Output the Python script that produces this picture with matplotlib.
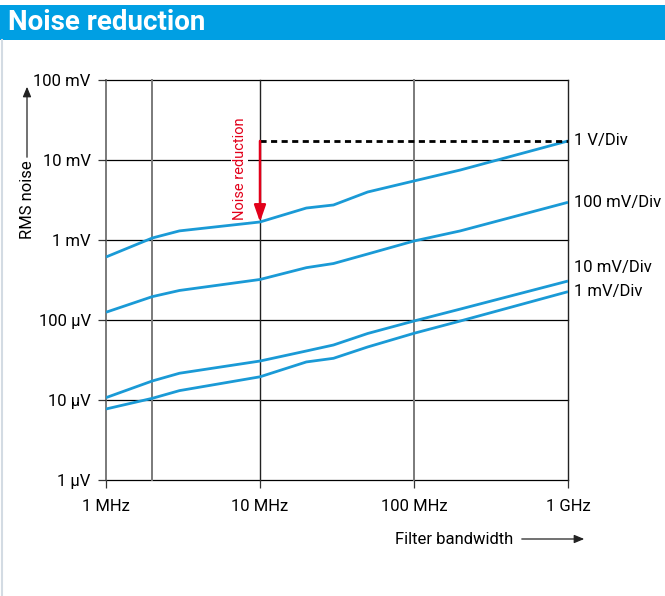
import matplotlib
matplotlib.use("Agg")
import numpy as np
import matplotlib.pyplot as plt
from matplotlib.patches import Rectangle, FancyArrowPatch
from matplotlib.lines import Line2D

plt.rcParams['font.family'] = ['Roboto', 'DejaVu Sans']

# filter bandwidth in MHz, RMS noise in µV
freq_mhz = [1, 2, 3, 10, 20, 30, 50, 100, 200, 1000]
noise_1v = [613, 1060, 1300, 1680, 2510, 2740, 3980, 5470, 7500, 17300]
noise_100mv = [125, 196, 234, 321, 451, 508, 668, 972, 1300, 2960]
noise_10mv = [10.7, 17.3, 21.6, 30.7, 41.0, 48.7, 67.8, 97.2, 137, 307]
noise_1mv = [7.72, 10.5, 13.1, 19.5, 29.9, 33.2, 46.0, 68.2, 97.2, 226]
series_labels = ["1 V/Div", "100 mV/Div", "10 mV/Div", "1 mV/Div"]
label_offsets = [0, 0, 9.5, 0]

x_ticks = [1e6, 1e7, 1e8, 1e9]
x_ticklabels = ["1 MHz", "10 MHz", "100 MHz", "1 GHz"]
y_ticks = [1e-6, 1e-5, 1e-4, 1e-3, 1e-2, 1e-1]
y_ticklabels = ["1 µV", "10 µV", "100 µV", "1 mV", "10 mV", "100 mV"]

W, H = 665, 596
BLUE = "#009fe3"
LINE = "#1a9ad6"
RED = "#e2001a"
FS = 12


def fx(x):
    return x / W


def fy(y):
    return 1 - y / H


fig = plt.figure(figsize=(W / 100, H / 100), dpi=100)

# title bar
fig.patches.append(Rectangle((0, fy(40)), 1, fy(5) - fy(40), transform=fig.transFigure,
                             facecolor=BLUE, edgecolor="none"))
fig.text(fx(8), fy(23), "Noise reduction", color="white", fontsize=20, fontweight="bold",
         va="center", ha="left")
fig.lines.append(Line2D([fx(1.5), fx(1.5)], [0, fy(40)], transform=fig.transFigure,
                        color="#d3dbe3", lw=1.5))

ax = fig.add_axes([fx(106), fy(480), fx(568) - fx(106), fy(80) - fy(480)])
ax.set_xscale("log")
ax.set_yscale("log")
ax.set_xlim(1e6, 1e9)
ax.set_ylim(1e-6, 1e-1)
for s in ax.spines.values():
    s.set_visible(False)

# grid
for yv in y_ticks:
    ax.axhline(yv, color="black", lw=0.9, zorder=1, clip_on=False)
for xv, c, w in [(1e6, "#7a7a7a", 1.4), (2e6, "#7a7a7a", 1.4), (1e7, "#222222", 1.0),
                 (1e8, "#7a7a7a", 1.4), (1e9, "#222222", 1.0)]:
    ax.axvline(xv, color=c, lw=w, zorder=1, clip_on=False)

ax.set_xticks(x_ticks)
ax.set_xticklabels(x_ticklabels)
ax.set_yticks(y_ticks)
ax.set_yticklabels(y_ticklabels)
ax.minorticks_off()
ax.tick_params(axis="both", length=6, width=0.9, color="#333333", labelsize=FS, pad=5)
ax.tick_params(axis="x", pad=8)

f = np.array(freq_mhz) * 1e6
all_series = [noise_1v, noise_100mv, noise_10mv, noise_1mv]
for vals, lab, off in zip(all_series, series_labels, label_offsets):
    v = np.array(vals) * 1e-6
    ax.plot(f, v, color=LINE, lw=2.0, zorder=3, solid_capstyle="butt")
    ax.annotate(lab, xy=(f[-1], v[-1]), xytext=(4, off), textcoords="offset points",
                fontsize=FS, va="center", ha="left", annotation_clip=False)

# noise reduction marker
top = noise_1v[-1] * 1e-6
bottom = noise_1v[3] * 1e-6
ax.plot([1e7, 1e9], [top, top], color="black", lw=2.0, ls=(0, (2.2, 1.6)), zorder=4)
ax.annotate("", xy=(1e7, bottom), xytext=(1e7, top),
            arrowprops=dict(arrowstyle="-|>,head_length=1.0,head_width=0.35", color=RED,
                            lw=1.8, shrinkA=0, shrinkB=0), zorder=5)
ax.text(7.4e6, 7.7e-3, "Noise reduction",
        rotation=90, color=RED, fontsize=10.5, ha="center", va="center", zorder=4,
        bbox=dict(facecolor="white", edgecolor="none", pad=1.0))

# axis titles with arrows
fig.text(fx(27), fy(200), "RMS noise", rotation=90, fontsize=FS, ha="center", va="center")
fig.add_artist(FancyArrowPatch(
    (fx(27), fy(160)), (fx(27), fy(84)), transform=fig.transFigure,
    arrowstyle="-|>,head_length=6,head_width=2.5", color="#222222", lw=0.9))
fig.text(fx(513), fy(539), "Filter bandwidth", fontsize=FS, ha="right", va="center")
fig.add_artist(FancyArrowPatch(
    (fx(519), fy(539)), (fx(587), fy(539)), transform=fig.transFigure,
    arrowstyle="-|>,head_length=6,head_width=2.5", color="#222222", lw=0.9))

fig.savefig("out.png", dpi=100)
